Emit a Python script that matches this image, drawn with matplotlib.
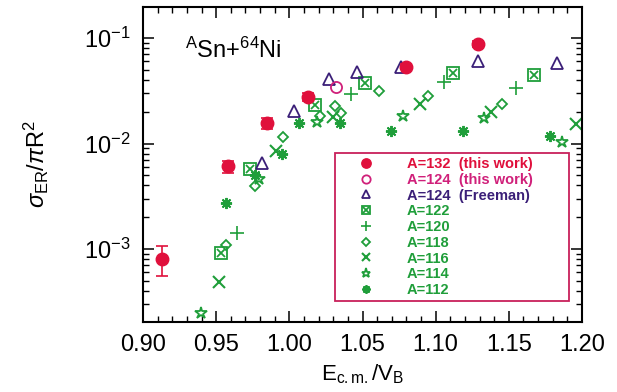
import numpy as np
import matplotlib
matplotlib.use("Agg")
import matplotlib.pyplot as plt
from matplotlib.legend_handler import HandlerTuple

plt.rcParams["font.family"] = ["Liberation Sans", "DejaVu Sans"]
plt.rcParams["mathtext.fontset"] = "custom"
plt.rcParams["mathtext.rm"] = "Liberation Sans"
plt.rcParams["mathtext.it"] = "Liberation Sans:italic"

RED = "#e0103c"
PINK = "#d0207a"
PURPLE = "#3b1f78"
GREEN = "#1f9e3a"

# A=132 (this work)
a132_x = [0.913, 0.958, 0.985, 1.013, 1.080, 1.129]
a132_y = [8.0e-4, 6.1e-3, 1.56e-2, 2.76e-2, 5.34e-2, 8.8e-2]
a132_lo = [2.5e-4, 0.8e-3, 1.8e-3, 2.5e-3, 3.0e-3, 5.0e-3]
a132_hi = [2.7e-4, 0.8e-3, 1.8e-3, 2.5e-3, 3.0e-3, 5.0e-3]

# A=124 (this work)
a124_x = [1.032]
a124_y = [3.45e-2]

# A=124 (Freeman)
a124f_x = [0.981, 1.003, 1.027, 1.046, 1.076, 1.129, 1.183]
a124f_y = [6.6e-3, 2.03e-2, 4.06e-2, 4.8e-2, 5.27e-2, 6.1e-2, 5.75e-2]

a122_x = [0.953, 0.973, 1.0175, 1.052, 1.112, 1.167]
a122_y = [9.1e-4, 5.7e-3, 2.32e-2, 3.77e-2, 4.69e-2, 4.46e-2]

a120_x = [0.964, 1.042, 1.106, 1.155]
a120_y = [1.43e-3, 2.92e-2, 3.8e-2, 3.38e-2]

a118_x = [0.957, 0.9765, 0.996, 1.021, 1.031, 1.035, 1.061, 1.095, 1.145]
a118_y = [1.09e-3, 3.95e-3, 1.15e-2, 1.82e-2, 2.26e-2, 1.96e-2, 3.17e-2, 2.82e-2, 2.37e-2]

a116_x = [0.952, 0.991, 1.030, 1.089, 1.138, 1.196]
a116_y = [4.9e-4, 8.55e-3, 1.79e-2, 2.36e-2, 2.0e-2, 1.53e-2]

a114_x = [0.9396, 0.979, 1.019, 1.078, 1.133, 1.186]
a114_y = [2.46e-4, 4.58e-3, 1.6e-2, 1.82e-2, 1.73e-2, 1.04e-2]

a112_x = [0.957, 0.9765, 0.995, 1.0066, 1.0346, 1.0695, 1.119, 1.178]
a112_y = [2.75e-3, 5.0e-3, 7.95e-3, 1.57e-2, 1.55e-2, 1.31e-2, 1.31e-2, 1.18e-2]

fig = plt.figure(figsize=(6.17, 3.92), dpi=100)
ax = fig.add_axes([0.2318, 0.1786, 0.7115, 0.8035])

# green isotopes
(h112,) = ax.plot(a112_x, a112_y, ls="none", marker=(8, 2, 0), ms=8, mew=1.4, color=GREEN)
(h114,) = ax.plot(a114_x, a114_y, ls="none", marker="*", ms=9, mew=1.3, mfc="none", color=GREEN)
(h116,) = ax.plot(a116_x, a116_y, ls="none", marker="x", ms=8, mew=1.5, color=GREEN)
(h118,) = ax.plot(a118_x, a118_y, ls="none", marker="D", ms=5, mew=1.3, mfc="none", color=GREEN)
(h120,) = ax.plot(a120_x, a120_y, ls="none", marker="+", ms=10, mew=1.2, color=GREEN)
(h122s,) = ax.plot(a122_x, a122_y, ls="none", marker="s", ms=8, mew=1.3, mfc="none", color=GREEN)
(h122x,) = ax.plot(a122_x, a122_y, ls="none", marker="x", ms=6, mew=1.3, color=GREEN)

(h124f,) = ax.plot(a124f_x, a124f_y, ls="none", marker="^", ms=8, mew=1.3, mfc="none", color=PURPLE)
(h124,) = ax.plot(a124_x, a124_y, ls="none", marker="o", ms=8, mew=1.3, mfc="none", color=PINK)

ax.errorbar(a132_x, a132_y, yerr=[a132_lo, a132_hi], fmt="none", ecolor=RED,
            elinewidth=1.2, capsize=4, capthick=1.2)
(h132,) = ax.plot(a132_x, a132_y, ls="none", marker="o", ms=9, color=RED)

ax.set_yscale("log")
ax.set_xlim(0.90, 1.20)
ax.set_ylim(2.03e-4, 0.197)
ax.set_xticks([0.90, 0.95, 1.00, 1.05, 1.10, 1.15, 1.20])
ax.set_xticks(np.arange(0.90, 1.2001, 0.01), minor=True)
ax.set_xticklabels(["0.90", "0.95", "1.00", "1.05", "1.10", "1.15", "1.20"])

ax.tick_params(which="both", direction="in", top=True, right=True, labelsize=17, pad=9)
ax.tick_params(which="major", length=8, width=1.1)
ax.tick_params(which="minor", length=4.5, width=1.0)
for s in ax.spines.values():
    s.set_linewidth(1.5)

ax.set_xlabel(r"${\rm E}_{\rm c.m.}/{\rm V}_{\rm B}$", fontsize=16, labelpad=4)
ax.set_ylabel(r"$\sigma_{\rm ER}/\pi{\rm R}^2$", fontsize=17, labelpad=24)

ax.text(0.095, 0.838, r"$^{\rm A}$Sn+$^{64}$Ni", transform=ax.transAxes, fontsize=17)

handles = [h132, h124, h124f, (h122s, h122x), h120, h118, h116, h114, h112]
labels = ["A=132  (this work)", "A=124  (this work)", "A=124  (Freeman)",
          "A=122", "A=120", "A=118", "A=116", "A=114", "A=112"]
label_colors = [RED, PINK, PURPLE] + [GREEN] * 6
leg = ax.legend(handles, labels, loc="lower left", bbox_to_anchor=(0.437, 0.0676, 0.533, 0.466),
                mode="expand", prop={"weight": "bold", "size": 10.5},
                labelspacing=0.12, handlelength=3.8, handletextpad=0.9, borderpad=0.25,
                borderaxespad=0, markerscale=0.75, fancybox=False, framealpha=1,
                handler_map={tuple: HandlerTuple(ndivide=1, pad=0)})
leg.get_frame().set_edgecolor("#c8205a")
leg.get_frame().set_linewidth(1.3)
for t, c in zip(leg.get_texts(), label_colors):
    t.set_color(c)

fig.savefig("out.png", dpi=100)
